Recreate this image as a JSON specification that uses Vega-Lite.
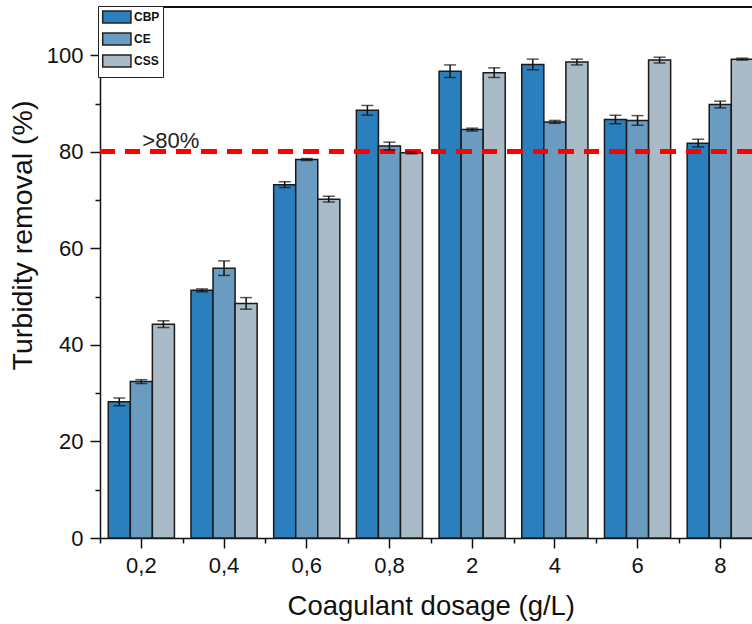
{
  "$schema": "https://vega.github.io/schema/vega-lite/v6.json",
  "autosize": {"type": "none"},
  "width": 652,
  "height": 531,
  "padding": {"left": 100, "top": 7, "right": 0, "bottom": 86},
  "background": "white",
  "config": {
    "view": {"stroke": null},
    "font": "Liberation Sans",
    "axis": {"domainColor": "#111", "domainWidth": 1.5, "tickColor": "#111", "tickWidth": 1.5, "labelColor": "#111", "titleColor": "#111", "grid": false, "labelFont": "Liberation Sans", "titleFont": "Liberation Sans", "titleFontWeight": "normal"}
  },
  "data": {"values": [
    {"dose": "0,2", "ads": "CBP", "v": 28.2, "lo": 27.4, "hi": 29.0},
    {"dose": "0,2", "ads": "CE", "v": 32.4, "lo": 32.0, "hi": 32.8},
    {"dose": "0,2", "ads": "CSS", "v": 44.3, "lo": 43.6, "hi": 45.0},
    {"dose": "0,4", "ads": "CBP", "v": 51.3, "lo": 51.0, "hi": 51.6},
    {"dose": "0,4", "ads": "CE", "v": 55.9, "lo": 54.4, "hi": 57.4},
    {"dose": "0,4", "ads": "CSS", "v": 48.6, "lo": 47.4, "hi": 49.8},
    {"dose": "0,6", "ads": "CBP", "v": 73.2, "lo": 72.6, "hi": 73.8},
    {"dose": "0,6", "ads": "CE", "v": 78.4, "lo": 78.2, "hi": 78.6},
    {"dose": "0,6", "ads": "CSS", "v": 70.2, "lo": 69.6, "hi": 70.8},
    {"dose": "0,8", "ads": "CBP", "v": 88.6, "lo": 87.6, "hi": 89.6},
    {"dose": "0,8", "ads": "CE", "v": 81.2, "lo": 80.4, "hi": 82.0},
    {"dose": "0,8", "ads": "CSS", "v": 79.8, "lo": 79.6, "hi": 80.0},
    {"dose": "2", "ads": "CBP", "v": 96.7, "lo": 95.4, "hi": 98.0},
    {"dose": "2", "ads": "CE", "v": 84.6, "lo": 84.3, "hi": 84.9},
    {"dose": "2", "ads": "CSS", "v": 96.4, "lo": 95.4, "hi": 97.4},
    {"dose": "4", "ads": "CBP", "v": 98.1, "lo": 97.0, "hi": 99.2},
    {"dose": "4", "ads": "CE", "v": 86.2, "lo": 85.9, "hi": 86.5},
    {"dose": "4", "ads": "CSS", "v": 98.6, "lo": 98.0, "hi": 99.2},
    {"dose": "6", "ads": "CBP", "v": 86.7, "lo": 85.8, "hi": 87.6},
    {"dose": "6", "ads": "CE", "v": 86.5, "lo": 85.5, "hi": 87.5},
    {"dose": "6", "ads": "CSS", "v": 99.0, "lo": 98.4, "hi": 99.6},
    {"dose": "8", "ads": "CBP", "v": 81.8, "lo": 81.0, "hi": 82.6},
    {"dose": "8", "ads": "CE", "v": 89.8, "lo": 89.1, "hi": 90.5},
    {"dose": "8", "ads": "CSS", "v": 99.2, "lo": 99.0, "hi": 99.4}
  ]},
  "resolve": {"axis": {"x": "independent", "y": "independent"}},
  "layer": [
    {
      "mark": {"type": "bar", "stroke": "#1a1a1a", "strokeWidth": 1.5, "opacity": 1},
      "encoding": {
        "x": {"field": "dose", "type": "nominal", "sort": ["0,2", "0,4", "0,6", "0,8", "2", "4", "6", "8"],
              "scale": {"range": [0, 661.6], "paddingInner": 0.2, "paddingOuter": 0.1},
              "axis": {"orient": "bottom", "title": "Coagulant dosage (g/L)", "labelAngle": 0, "tickSize": 10, "labelPadding": 7, "labelFontSize": 22, "titleFontSize": 27.5, "titlePadding": 16}},
        "xOffset": {"field": "ads", "type": "nominal", "sort": ["CBP", "CE", "CSS"], "scale": {"paddingInner": 0, "paddingOuter": 0}},
        "y": {"field": "v", "type": "quantitative", "scale": {"domain": [0, 110], "nice": false},
              "axis": {"orient": "left", "title": "Turbidity removal (%)", "values": [0, 20, 40, 60, 80, 100],
                       "tickSize": 10, "labelPadding": 7, "labelFontSize": 22, "titleFontSize": 28.5, "titleX": -63, "titleY": 228}},
        "fill": {"field": "ads", "type": "nominal", "sort": ["CBP", "CE", "CSS"],
                 "scale": {"domain": ["CBP", "CE", "CSS"], "range": ["#2C7FBD", "#6A9CC1", "#A8BBC6"]},
                 "legend": {"orient": "none", "legendX": -2, "legendY": -1, "title": " ", "titleOrient": "bottom", "titleFontSize": 4, "titlePadding": 0,
                            "padding": 3, "fillColor": "white", "strokeColor": "#222", "symbolType": "M-0.9,-0.86H3.14V0.86H-0.9Z", "symbolSize": 196,
                            "symbolStrokeColor": "#222", "symbolStrokeWidth": 1.5, "symbolOpacity": 1, "labelFontSize": 12, "labelFont": "Liberation Sans",
                            "labelFontWeight": "bold", "labelColor": "#111", "labelOffset": 17, "rowPadding": 2}}
      }
    },
    {
      "mark": {"type": "rule", "color": "#FF0000", "strokeWidth": 4, "strokeDash": [15, 10.5]},
      "encoding": {"y": {"datum": 80, "type": "quantitative", "axis": null}}
    },
    {
      "mark": {"type": "rule", "color": "#111", "strokeWidth": 1.5},
      "encoding": {
        "x": {"field": "dose", "type": "nominal", "sort": ["0,2", "0,4", "0,6", "0,8", "2", "4", "6", "8"], "axis": null},
        "xOffset": {"field": "ads", "type": "nominal", "sort": ["CBP", "CE", "CSS"]},
        "y": {"field": "lo", "type": "quantitative", "axis": null},
        "y2": {"field": "hi"}
      }
    },
    {
      "mark": {"type": "tick", "color": "#111", "size": 12, "thickness": 1.5},
      "encoding": {
        "x": {"field": "dose", "type": "nominal", "sort": ["0,2", "0,4", "0,6", "0,8", "2", "4", "6", "8"], "axis": null},
        "xOffset": {"field": "ads", "type": "nominal", "sort": ["CBP", "CE", "CSS"]},
        "y": {"field": "lo", "type": "quantitative", "axis": null}
      }
    },
    {
      "mark": {"type": "tick", "color": "#111", "size": 12, "thickness": 1.5},
      "encoding": {
        "x": {"field": "dose", "type": "nominal", "sort": ["0,2", "0,4", "0,6", "0,8", "2", "4", "6", "8"], "axis": null},
        "xOffset": {"field": "ads", "type": "nominal", "sort": ["CBP", "CE", "CSS"]},
        "y": {"field": "hi", "type": "quantitative", "axis": null}
      }
    },
    {
      "mark": {"type": "rule", "color": "#111", "strokeWidth": 1.5},
      "encoding": {"y": {"datum": 110, "type": "quantitative", "axis": null}}
    },
    {
      "data": {"values": [{"label": ">80%", "dose": "0,2", "level": 80}]},
      "mark": {"type": "text", "align": "left", "baseline": "alphabetic", "dx": 1, "dy": -4, "fontSize": 22, "color": "#222", "font": "Liberation Sans"},
      "encoding": {
        "x": {"field": "dose", "type": "nominal", "sort": ["0,2", "0,4", "0,6", "0,8", "2", "4", "6", "8"], "axis": null},
        "y": {"field": "level", "type": "quantitative", "axis": null},
        "text": {"field": "label"}
      }
    },
    {
      "mark": {"type": "tick", "opacity": 0},
      "encoding": {
        "x": {"field": "dose", "type": "nominal", "sort": ["0,2", "0,4", "0,6", "0,8", "2", "4", "6", "8"],
              "axis": {"orient": "bottom", "title": null, "labels": false, "domain": false, "bandPosition": 0, "tickOffset": -8.27, "tickSize": 5}},
        "y": {"field": "v", "type": "quantitative",
              "axis": {"orient": "left", "title": null, "labels": false, "domain": false, "values": [10, 30, 50, 70, 90], "tickSize": 5}}
      }
    }
  ]
}
